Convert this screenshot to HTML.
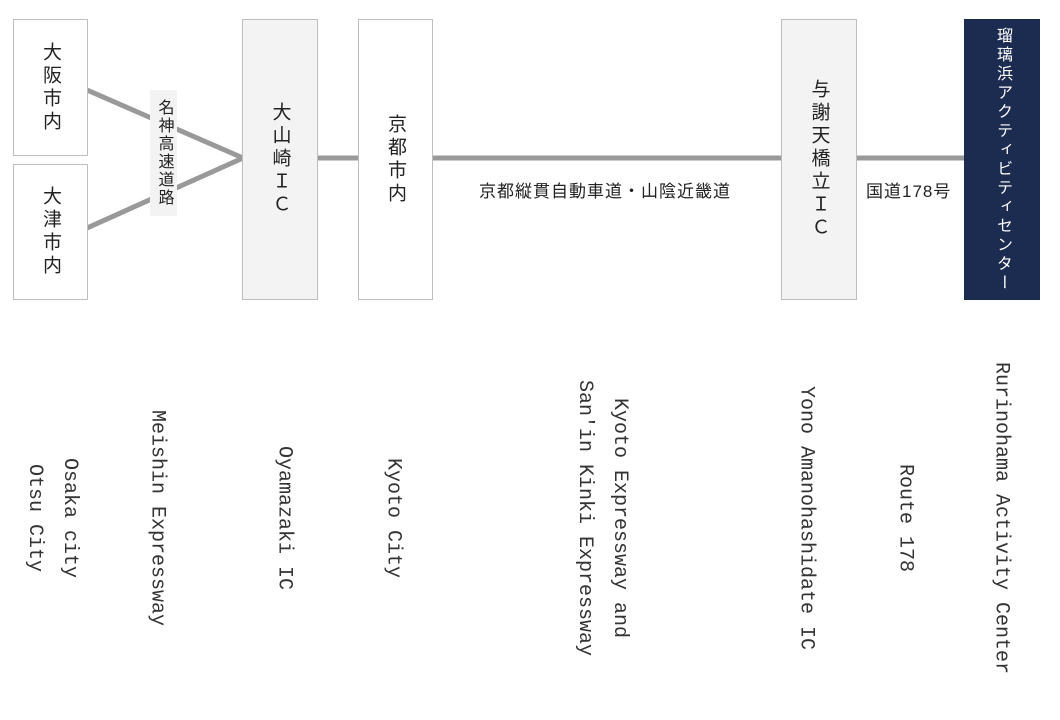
<!DOCTYPE html>
<html><head><meta charset="utf-8"><style>
html,body{margin:0;padding:0;background:#fff;}
body{width:1060px;height:720px;position:relative;overflow:hidden;font-family:"Liberation Sans","Noto Sans CJK JP",sans-serif;color:#222;}
.box{position:absolute;box-sizing:border-box;border:1px solid #bdbdbd;background:#fff;display:flex;align-items:center;justify-content:center;}
.v{writing-mode:vertical-rl;text-orientation:upright;font-size:19px;line-height:1;letter-spacing:4px;}
.en{position:absolute;writing-mode:vertical-rl;font-family:"Liberation Mono","Noto Serif CJK SC",monospace;font-size:20px;line-height:35px;text-align:center;color:#333;white-space:pre;transform:translate(-50%,-50%);top:518px;}
.lbl{position:absolute;font-size:17px;white-space:nowrap;letter-spacing:1px;}
</style></head><body>
<svg width="1060" height="720" style="position:absolute;left:0;top:0">
<g stroke="#999" stroke-width="5">
<line x1="87" y1="90" x2="243" y2="158"/>
<line x1="87" y1="228" x2="243" y2="158"/>
<line x1="317" y1="158" x2="358" y2="158"/>
<line x1="432" y1="158" x2="781" y2="158"/>
<line x1="856" y1="158" x2="964" y2="158"/>
</g>
</svg>
<div class="box" style="left:13px;top:19px;width:75px;height:137px"><span class="v">大阪市内</span></div>
<div class="box" style="left:13px;top:164px;width:75px;height:136px"><span class="v">大津市内</span></div>
<div style="position:absolute;left:150px;top:90px;width:27px;height:126px;background:#f3f3f3;display:flex;align-items:center;justify-content:center"><span class="v" style="font-size:16px;letter-spacing:2px">名神高速道路</span></div>
<div class="box" style="left:242px;top:19px;width:76px;height:281px;background:#f3f3f3"><span class="v">大山崎ＩＣ</span></div>
<div class="box" style="left:358px;top:19px;width:75px;height:281px"><span class="v">京都市内</span></div>
<div class="box" style="left:781px;top:19px;width:76px;height:281px;background:#f3f3f3"><span class="v">与謝天橋立ＩＣ</span></div>
<div class="box" style="left:964px;top:19px;width:76px;height:281px;background:#1c2b50;border-color:#1c2b50;color:#fff"><span class="v" style="font-size:16px;letter-spacing:3px">瑠璃浜アクティビティセンター</span></div>
<div class="lbl" style="left:605px;top:177px;transform:translateX(-50%)">京都縦貫自動車道・山陰近畿道</div>
<div class="lbl" style="left:866px;top:177px">国道178号</div>
<div class="en" style="left:52px">Osaka city
Otsu City</div>
<div class="en" style="left:157px">Meishin Expressway</div>
<div class="en" style="left:284px">Oyamazaki IC</div>
<div class="en" style="left:393px">Kyoto City</div>
<div class="en" style="left:602px">Kyoto Expressway and
San'in Kinki Expressway</div>
<div class="en" style="left:806px">Yono Amanohashidate IC</div>
<div class="en" style="left:905px">Route 178</div>
<div class="en" style="left:1001px">Rurinohama Activity Center</div>
</body></html>
